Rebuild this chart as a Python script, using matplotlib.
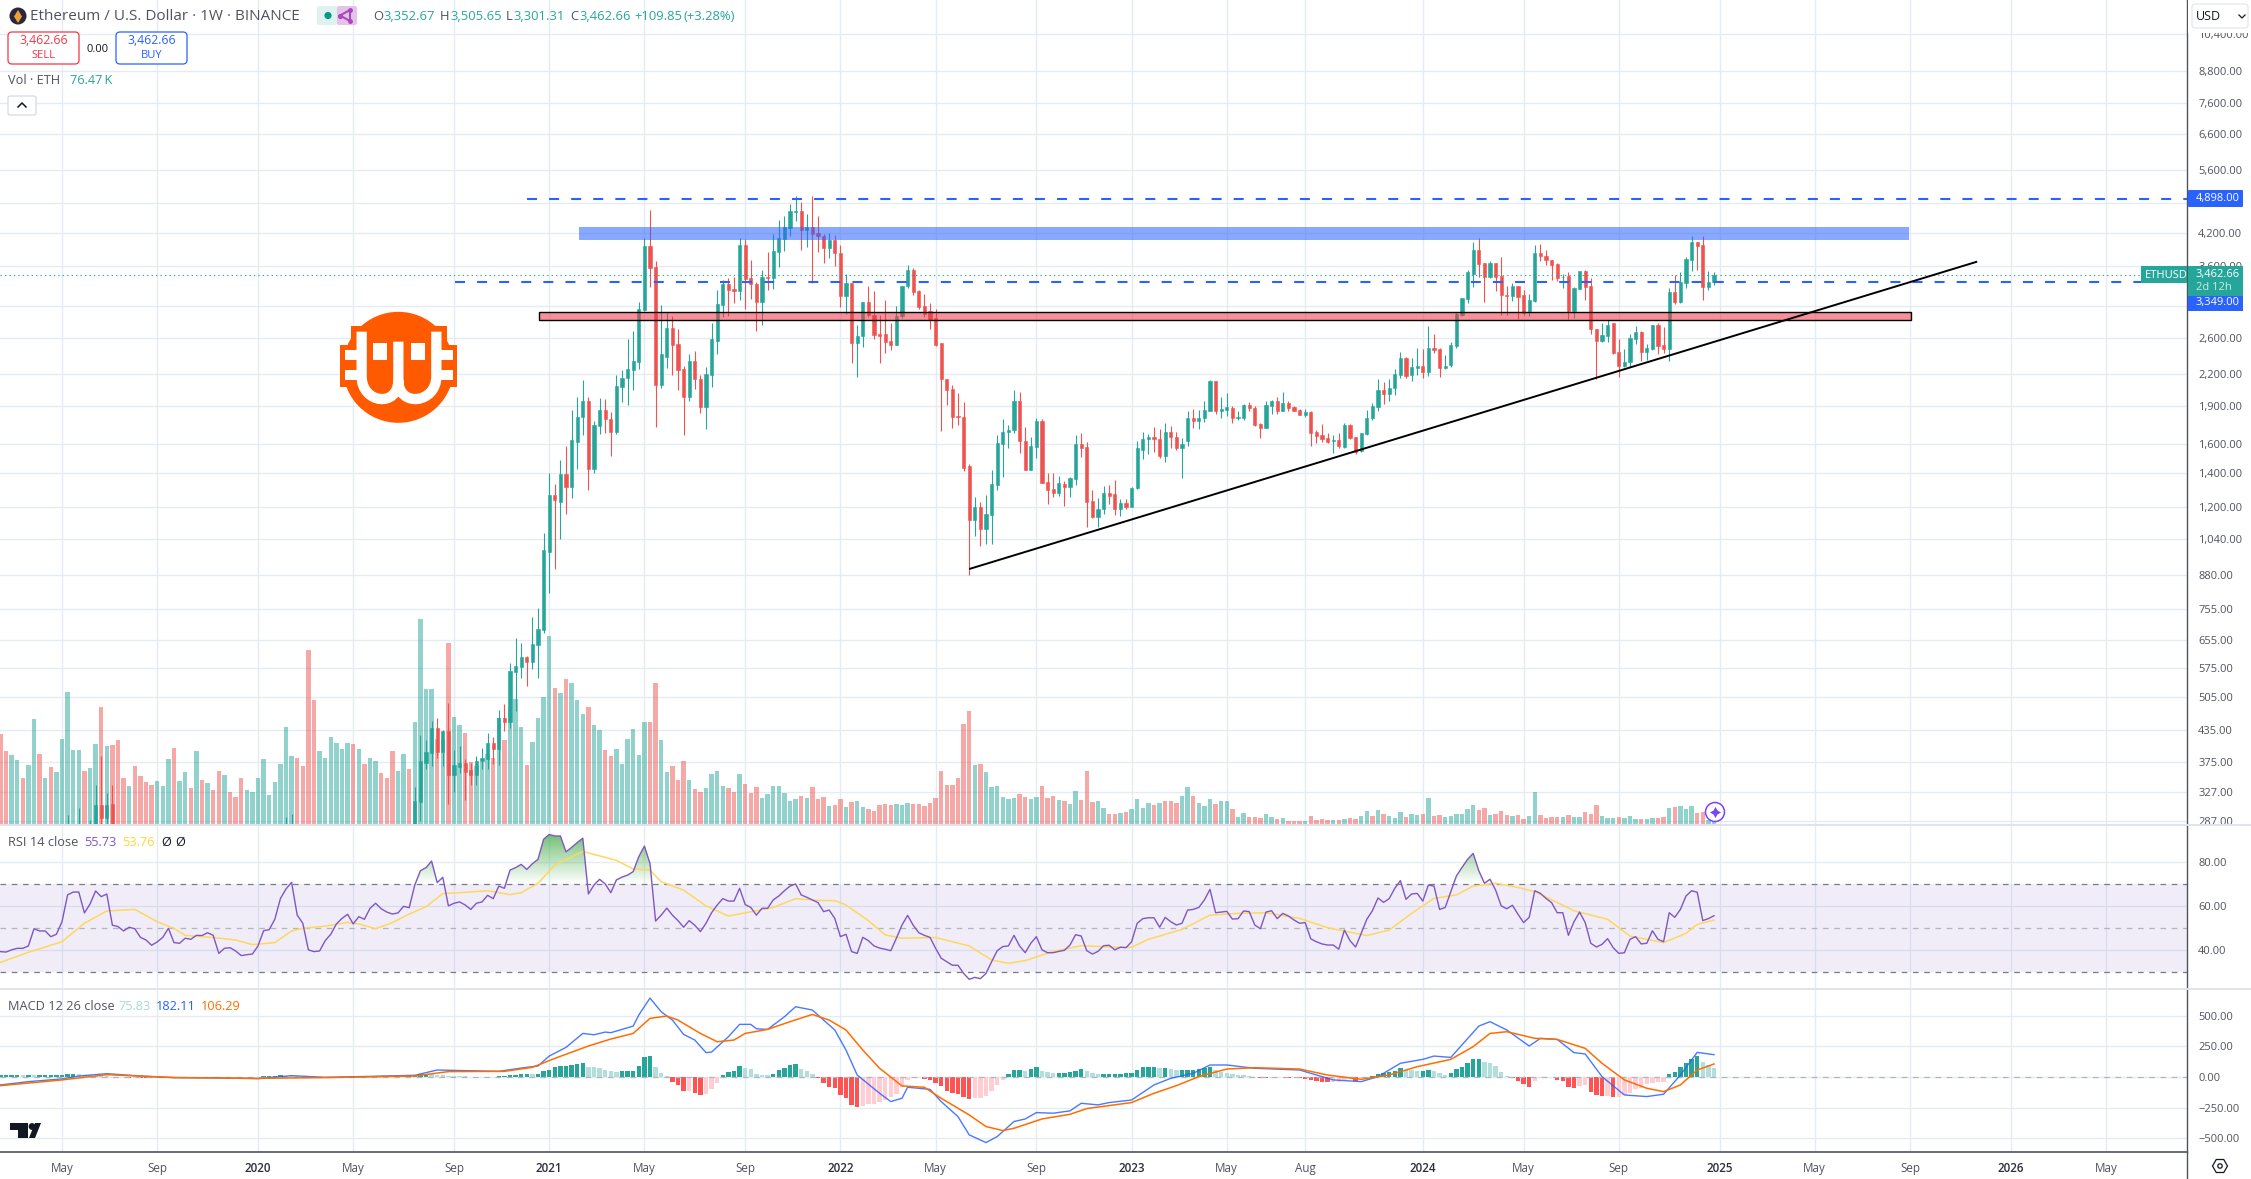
"""ETH/USD weekly TradingView chart: candles + volume, RSI and MACD panes."""
import matplotlib
matplotlib.use("Agg")
import matplotlib.pyplot as plt
from matplotlib.patches import Circle, FancyBboxPatch, Rectangle, PathPatch, Polygon
from matplotlib.path import Path
from matplotlib.ticker import FixedLocator, NullLocator
import numpy as np

plt.rcParams["font.family"] = ["Open Sans", "DejaVu Sans"]

W, H = 2251, 1179
AXIS_X = 2187
GRID = "#e4ecf2"
UP, DOWN = "#26a69a", "#ef5350"
TXT = "#50535e"
BLUE = "#2962ff"

# x axis, week numbers
tick_idx = [11, 28, 46, 63, 81, 98, 115, 133, 150, 167, 185, 202, 219, 233, 254, 272, 289, 307, 324, 341, 359, 376]
tick_txt = ["May", "Sep", "2020", "May", "Sep", "2021", "May", "Sep", "2022", "May", "Sep", "2023", "May", "Aug",
            "2024", "May", "Sep", "2025", "May", "Sep", "2026", "May"]
price_ticks = [10400, 8800, 7600, 6600, 5600, 4800, 4200, 3600, 3000, 2600, 2200, 1900, 1600, 1400, 1200, 1040,
               880, 755, 655, 575, 505, 435, 375, 327, 287]
# these two sit fully behind the price tags
hidden_ticks = [4800, 3000]

# volume, in units of 10K ETH, one value per week from week 0
vol_10k = [273, 222, 210, 195, 141, 180, 318, 213, 141, 174,
           159, 258, 399, 225, 225, 162, 171, 243, 354, 237,
           240, 255, 141, 117, 177, 147, 129, 120, 132, 117,
           198, 231, 132, 159, 111, 222, 135, 126, 105, 162,
           150, 99, 84, 141, 105, 99, 141, 198, 90, 129,
           183, 294, 207, 201, 177, 525, 375, 222, 201, 264,
           246, 228, 246, 243, 228, 183, 201, 192, 156, 141,
           222, 162, 213, 168, 309, 618, 408, 408, 258, 255,
           546, 324, 300, 276, 189, 177, 189, 213, 201, 321,
           255, 351, 378, 294, 180, 249, 321, 384, 567, 411,
           396, 438, 426, 375, 333, 354, 300, 285, 225, 207,
           228, 183, 258, 288, 210, 309, 309, 426, 255, 159,
           177, 135, 192, 135, 108, 99, 111, 153, 162, 117,
           111, 99, 153, 123, 96, 114, 81, 93, 117, 117,
           96, 72, 78,
           87, 81, 114, 78, 84, 57, 60, 78, 54, 69,
           72, 54, 48, 42, 60, 63, 60, 63, 60, 66,
           63, 63, 57, 66, 81, 162, 120, 120, 141, 303,
           342, 180, 183, 159, 114, 117, 84, 78, 81, 93,
           84, 78, 84, 117, 81, 87, 75, 72, 63, 102,
           75, 162, 69, 72, 51, 33, 33, 36, 39, 48,
           78, 51, 66, 60, 66, 72, 72, 66, 87, 114,
           87, 66, 57, 78, 63, 72, 72, 48, 24, 36,
           24, 24, 21, 33, 24, 18, 21, 12, 12, 12,
           12, 27, 15, 18, 15, 15, 15, 18, 21, 18,
           27, 42, 27, 45, 33, 27, 21, 39, 24, 33,
           30, 33, 81, 27, 30, 24, 27, 33, 33, 48,
           60, 45, 51, 30, 33, 42, 30, 27, 30, 18,
           27, 99, 30, 21, 24, 24, 24, 30, 24, 24,
           39, 33, 60, 27, 21, 21, 24, 21, 27, 18,
           18, 18, 21, 21, 24, 51, 54, 57, 48, 57,
           36, 39, 15, 7.6]
vol_dir = ("rrggrggrgr" "gggggrggrg" "rrrgrrrrgg" "grggrgrgrr" "grrrgggggg" "gggrrrrggg" "gggrgrggrr"
           "rggrggggrg" "rggrrgggrg" "rgggrggggr" "grgggrggrr" "ggggggrrgg" "rrrgrrgggg" "rrgrrrgggg" "ggg"
           "rgrrrgrrgr" "ggrrrrrggg" "rrrrrrrrrr" "rgrgggggGr".lower() + "rggrrrgrgg" "rrrggrrgrg"
           "gggrgrrrgg" "rgggrggrgg" "rrrggrgrrr" "grrrrgrgrr" "ggrgrgggrg" "grgrrggggg" "grrgrrrgrr"
           "ggrrrrgrgg" "rrrgggrggg" "rggrrgrggg" "rrgg")

# weekly candles that reach the visible price range before the main run
early_idx = [12, 14, 16, 17, 18, 19, 20, 51, 52]
early_open = [255, 255, 255, 262, 308, 290, 309, 255, 255]
early_high = [295, 304, 288, 337, 386, 326, 337, 292, 296]
early_low = [240, 240, 240, 250, 270, 270, 255, 240, 240]
early_close = [265, 265, 265, 308, 290, 308, 268, 265, 270]

# main candle run starts at week 74
first_week = 74
open_ = [265, 313, 374, 391, 438, 393, 433, 354, 367, 373,
         361, 354, 376, 381, 410, 398, 459, 451, 565, 580,
         606, 592, 640, 685, 980, 1267, 1231, 1399, 1317, 1618,
         1807, 1945, 1426, 1735, 1869, 1797, 1692, 2081, 2160, 2248,
         2332, 2955, 3954, 3595, 2098, 2385, 2722, 2529, 2258, 1986,
         2335, 2153, 1896, 2193, 2565, 3023, 3320, 3250, 3225, 3971,
         3420, 3325, 3060, 3425, 3410, 3850, 4075, 4295, 4615, 4635,
         4250, 4310, 4190, 4130, 3915, 4060, 3830, 3150, 3345, 2540,
         2615, 3055, 2885, 2640, 2640, 2565, 2520, 2865, 3290, 3544,
         3220, 3000, 2940, 2840, 2540, 2155, 2055, 1820, 1815, 1445,
         1130, 1200, 1085, 1160, 1330, 1600, 1690, 1710, 1945, 1625,
         1420, 1580, 1780, 1345, 1305, 1280, 1335, 1315, 1365, 1600,
         1580, 1232, 1150, 1190, 1280, 1273, 1190, 1225, 1200, 1310,
         1555, 1635, 1655, 1640, 1518, 1695, 1655, 1570, 1620, 1800,
         1780, 1800, 1865, 2135, 1865, 1870, 1890, 1805, 1805, 1915,
         1890, 1755, 1725, 1905, 1945, 1860, 1930, 1895, 1870, 1830,
         1850, 1695, 1665, 1645, 1625, 1630, 1580, 1750, 1650, 1550,
         1675, 1800, 1895, 2045, 2015, 2065, 2190, 2370, 2190, 2265,
         2290, 2225, 2480, 2470, 2260, 2300, 2505, 2885, 3100, 3476,
         3888, 3660, 3430, 3660, 3450, 3160, 3150, 3285, 3160, 2940,
         3070, 3830, 3775, 3700, 3640, 3425, 3440, 2940, 3250, 3520,
         3295, 2710, 2565, 2615, 2780, 2435, 2290, 2330, 2590, 2675,
         2440, 2470, 2750, 2520, 2465, 3200, 3065, 3345, 3710, 4025,
         3975, 3275, 3352.67]
close = [314, 376, 393, 438, 393, 433, 354, 370, 373, 359,
         354, 377, 382, 410, 398, 459, 451, 567, 582, 606,
         592, 643, 688, 986, 1267, 1242, 1399, 1317, 1627, 1813,
         1945, 1426, 1743, 1869, 1791, 1692, 2090, 2167, 2258, 2335,
         2966, 3954, 3577, 2098, 2410, 2722, 2519, 2248, 1986, 2335,
         2150, 1896, 2202, 2581, 3036, 3320, 3240, 3225, 3971, 3400,
         3320, 3060, 3425, 3410, 3860, 4095, 4310, 4635, 4635, 4260,
         4310, 4170, 4135, 3915, 4060, 3825, 3150, 3345, 2540, 2625,
         3055, 2880, 2630, 2625, 2555, 2520, 2875, 3300, 3544, 3200,
         2990, 2900, 2825, 2520, 2150, 2045, 1815, 1815, 1435, 1130,
         1200, 1085, 1165, 1335, 1605, 1695, 1710, 1945, 1620, 1420,
         1590, 1780, 1340, 1300, 1280, 1340, 1315, 1373, 1600, 1570,
         1228, 1150, 1190, 1280, 1260, 1190, 1225, 1200, 1310, 1575,
         1640, 1655, 1635, 1518, 1695, 1650, 1570, 1600, 1800, 1780,
         1805, 1870, 2135, 1865, 1880, 1895, 1805, 1815, 1915, 1890,
         1750, 1725, 1910, 1945, 1860, 1930, 1890, 1865, 1830, 1850,
         1685, 1660, 1640, 1615, 1630, 1585, 1750, 1645, 1545, 1680,
         1805, 1905, 2045, 2015, 2065, 2200, 2370, 2180, 2270, 2290,
         2225, 2480, 2460, 2260, 2290, 2515, 2900, 3120, 3505, 3888,
         3640, 3430, 3660, 3430, 3160, 3150, 3285, 3135, 2910, 3090,
         3830, 3780, 3705, 3620, 3420, 3430, 2940, 3270, 3520, 3275,
         2700, 2565, 2630, 2750, 2430, 2290, 2330, 2600, 2675, 2440,
         2480, 2750, 2505, 2465, 3200, 3065, 3350, 3720, 4025, 3955,
         3275, 3352, 3462.66]
high = [335, 424, 415, 453, 459, 435, 492, 397, 403, 381,
        373, 386, 400, 428, 421, 476, 489, 590, 660, 645,
        609, 727, 757, 1066, 1404, 1332, 1490, 1587, 1871, 1986,
        2148, 1986, 1782, 1976, 1966, 1852, 2193, 2248, 2581, 2685,
        3060, 4094, 4656, 3692, 3023, 2920, 2865, 2710, 2285, 2410,
        2450, 2193, 2276, 2780, 3240, 3380, 3420, 3430, 4090, 4075,
        3710, 3355, 3544, 3850, 4180, 4440, 4530, 4785, 4960, 4830,
        4565, 4960, 4530, 4180, 4200, 4150, 3970, 3470, 3345, 2750,
        3065, 3300, 3220, 2885, 3090, 2780, 3000, 3300, 3620, 3580,
        3240, 3180, 3040, 2960, 2540, 2155, 2100, 2025, 1935, 1460,
        1255, 1230, 1270, 1425, 1670, 1795, 1750, 2050, 2030, 1730,
        1650, 1805, 1795, 1400, 1405, 1385, 1355, 1380, 1670, 1680,
        1615, 1300, 1250, 1320, 1325, 1360, 1245, 1245, 1315, 1620,
        1695, 1675, 1730, 1715, 1765, 1735, 1695, 1645, 1860, 1875,
        1870, 1945, 2145, 2135, 1980, 2025, 1905, 1860, 1925, 1935,
        1905, 1760, 1945, 1960, 1985, 2030, 1945, 1905, 1880, 1880,
        1860, 1710, 1755, 1680, 1665, 1680, 1760, 1755, 1650, 1680,
        1870, 1930, 2150, 2125, 2150, 2250, 2435, 2380, 2370, 2480,
        2465, 2745, 2640, 2480, 2400, 2550, 2930, 3120, 3545, 4023,
        4100, 3660, 3695, 3660, 3750, 3300, 3345, 3300, 3240, 3180,
        3970, 3985, 3885, 3700, 3660, 3475, 3510, 3280, 3520, 3540,
        3420, 2710, 2785, 2825, 2780, 2580, 2470, 2650, 2745, 2685,
        2530, 2760, 2780, 2735, 3265, 3460, 3505, 3750, 4145, 4025,
        4145, 3525, 3505.65]
low = [250, 287, 364, 369, 382, 369, 310, 327, 357, 316,
       337, 337, 364, 364, 372, 370, 433, 438, 473, 551,
       530, 573, 551, 676, 810, 903, 1040, 1163, 1249, 1426,
       1670, 1300, 1400, 1675, 1680, 1514, 1675, 1935, 1910, 2044,
       2258, 2940, 3275, 1730, 2070, 2268, 2190, 2044, 1670, 1950,
       2056, 1846, 1714, 2081, 2419, 2860, 2870, 3050, 3090, 2970,
       3105, 2680, 2760, 3240, 3250, 3590, 3860, 4145, 4420, 3880,
       3930, 3340, 3850, 3660, 3740, 3600, 2990, 2900, 2320, 2170,
       2495, 2860, 2580, 2320, 2430, 2460, 2520, 2850, 3265, 3165,
       2960, 2860, 2710, 2500, 1700, 1910, 1720, 1750, 1415, 880,
       1050, 1005, 1015, 1015, 1300, 1375, 1570, 1680, 1540, 1420,
       1420, 1500, 1340, 1215, 1255, 1265, 1205, 1255, 1330, 1510,
       1095, 1140, 1095, 1165, 1220, 1160, 1155, 1190, 1200, 1305,
       1495, 1530, 1545, 1505, 1475, 1570, 1555, 1370, 1590, 1725,
       1715, 1770, 1865, 1840, 1805, 1820, 1765, 1785, 1785, 1860,
       1735, 1645, 1720, 1835, 1840, 1860, 1865, 1860, 1830, 1810,
       1590, 1610, 1615, 1610, 1535, 1575, 1570, 1635, 1530, 1545,
       1670, 1790, 1860, 1925, 1945, 2000, 2160, 2160, 2135, 2190,
       2160, 2180, 2430, 2175, 2250, 2270, 2480, 2870, 3040, 3280,
       3430, 3060, 3420, 3225, 2880, 2890, 3070, 2835, 2880, 2870,
       3060, 3690, 3625, 3385, 3365, 3265, 2835, 2845, 3250, 3090,
       2650, 2150, 2555, 2550, 2415, 2170, 2270, 2270, 2530, 2335,
       2345, 2460, 2410, 2430, 2340, 3030, 3040, 3260, 3525, 3545,
       3090, 3240, 3301.31]

# drawn levels and trendline
level_top = 4898.0
level_mid = 3349.0
last_price = 3462.66
blue_zone = (4308, 4066)
red_zone = (2920, 2818)
trend_weeks = (173, 353)
trend_prices = (905, 3680)

# RSI, one per week
rsi = [39.4, 39.2, 40.2, 40.9, 40.9, 42, 49.8, 48.8, 48.8, 46.2,
       47.3, 53, 65.2, 66.5, 66.5, 57, 61, 67, 64.4, 65.6,
       51.4, 50.8, 48.8, 50.5, 49.8, 45.9, 44.7, 42.3, 43.8, 45.9,
       50, 43.5, 43.2, 45.5, 45, 46.8, 46.7, 48, 46.8, 38.6,
       40.9, 41.2, 39.7, 37.6, 38, 38.3, 42, 48.9, 49.4, 54.1,
       63.5, 67.9, 70.9, 56, 52.3, 40.2, 39.4, 39.7, 44.4, 47.3,
       52, 54.5, 56.4, 52, 55.3, 54.1, 59.1, 61.4, 58.9, 57.4,
       56.5, 57, 60, 59.4, 69.7, 76.2, 77.6, 80.6, 70.8, 73.2,
       60.2, 61.4, 62, 60.6, 58.6, 61.4, 62, 65, 63.5, 69.2,
       68.2, 76.5, 77.6, 79.1, 76.8, 79.4, 81.4, 90.5, 92.7, 92,
       92, 84.8, 86.8, 89, 91, 65.6, 69.7, 72.3, 70.2, 66.2,
       72, 73.3, 74.2, 75.8, 82.6, 87.4, 79.5, 53.3, 56, 59.2,
       56, 53.5, 50.5, 53.5, 51.4, 48.5, 52.3, 57.1, 60.6, 63.5,
       62.4, 62.4, 68.2, 60.8, 59.5, 56, 59.1, 59.1, 62.9, 64.7,
       67.1, 69.2, 70.2, 65.2, 64.1, 62.9, 61.7, 57.6, 58.3, 54.5,
       46.2, 47.3, 39.4, 38.6, 45.9, 44.4, 42, 41, 40.5, 39.8,
       45.5, 51.5, 55.9, 51.4, 48, 46.8, 45.9, 40.9, 36.4, 34.8,
       33.2, 33.2, 29.5, 26.8, 27.7, 27.1, 29.5, 34.8, 39.8, 41.7,
       42, 46.8, 42, 38.9, 43.2, 46.2, 40.2, 38.9, 38.9, 39.5,
       40, 42.4, 47.1, 46.5, 39.8, 38.3, 39.5, 42.1, 42.3, 40.2,
       41.4, 41.2, 43.9, 52.3, 54.4, 54.8, 54.8, 50.5, 55, 53,
       51.5, 52.3, 58.3, 58.6, 59.5, 62.9, 67.7, 57.1, 57.4, 57.7,
       54.2, 54.4, 57.9, 57.6, 51.5, 49.8, 57.4, 58, 54.4, 56.8,
       55.6, 53.8, 52.3, 52.6, 45.2, 43.9, 42.9, 42.4, 42.4, 40.5,
       49.2, 44.4, 41.5, 47.7, 54.1, 58, 63.8, 61.8, 63.5, 68.2,
       71.7, 63.2, 65.6, 65.9, 62.4, 69.7, 69.2, 58.6, 59.5, 66.7,
       73.8, 77.7, 81.4, 84.1, 76.2, 70.5, 72.3, 67.4, 60.2, 58.9,
       60.5, 56.4, 52.6, 55, 67.1, 65.9, 63.6, 61.7, 57.1, 57.1,
       46.8, 53, 57.4, 52.6, 43.2, 41.5, 42.7, 45.3, 41.2, 38.6,
       38.9, 45, 46.2, 42.9, 43.2, 48.9, 45, 43.9, 57.1, 55,
       58.6, 64.7, 67.1, 66.4, 53.5, 54.4, 55.73]

# RSI moving average, read at the weeks listed
rsi_ma_idx = [0, 5, 11, 15, 19, 24, 28, 31, 33, 38, 42, 45, 49, 52, 54, 58, 62, 64, 67, 70, 73, 76, 79, 83, 87, 91,
              93, 96, 99, 104, 110, 113, 116, 118, 122, 126, 130, 135, 138, 142, 146, 149, 151, 155, 158, 161, 167,
              173, 177, 180, 183, 188, 193, 199, 202, 205, 211, 216, 221, 226, 232, 237, 244, 248, 252, 256, 260,
              263, 267, 271, 274, 281, 287, 291, 297, 301, 303, 306]
rsi_ma = [34.5, 39.1, 43.9, 52.3, 57.9, 58.6, 53, 50, 46.8, 45.8, 44.7, 42.6, 43.5, 48.8, 50, 51, 52.7, 52, 49.8, 52.6,
          56.5, 59.8, 65.8, 66.4, 67.1, 65.3, 66.2, 70.5, 78.8, 85, 80.9, 77, 76.5, 71.2, 67.4, 60.2, 55.6, 58, 59.5,
          63.5, 62.7, 62.6, 60.6, 53.5, 47, 45.5, 45.8, 42, 35.6, 34.1, 35.3, 39.5, 42.1, 41.4, 41.4, 45, 49.5, 56,
          56.8, 57.1, 54.5, 50.3, 46.7, 49.2, 56.8, 63.6, 65.2, 69.2, 70.5, 68.6, 66.7, 58, 54.1, 46.5, 43.5, 47.7,
          51.8, 53.76]

# MACD line and signal, read at the weeks listed
macd_idx = [0, 5, 11, 14, 19, 25, 31, 39, 46, 52, 58, 66, 74, 78, 83, 89, 93, 96, 98, 101, 104, 106, 108, 109, 113,
            114, 116, 118, 120, 122, 124, 126, 127, 130, 132, 134, 135, 137, 140, 142, 145, 147, 149, 151, 153, 157,
            159, 161, 162, 166, 168, 171, 173, 176, 178, 181, 183, 185, 188, 191, 193, 196, 198, 202, 206, 209, 213,
            216, 219, 224, 232, 238, 243, 246, 250, 254, 256, 259, 264, 266, 269, 273, 275, 278, 281, 283, 286, 290,
            294, 297, 300, 303, 306]
macd = [-65, -38, -16, 8, 27, 8, -5, -8, -14, 11, -3, 5, 14, 57, 52, 46, 73, 90, 171, 242, 356, 345, 367, 362, 416,
        506, 645, 533, 465, 348, 302, 199, 204, 329, 430, 430, 394, 389, 492, 574, 547, 465, 384, 220, 16, -133,
        -201, -174, -84, -101, -201, -324, -473, -536, -487, -364, -343, -291, -296, -277, -215, -228, -209, -188,
        -65, -11, 30, 98, 98, 71, 57, -24, -38, 3, 112, 144, 171, 160, 416, 452, 384, 253, 316, 307, 199, 188, 3,
        -147, -160, -141, 16, 201, 182.11]
signal_idx = [0, 11, 19, 31, 46, 58, 74, 80, 90, 95, 99, 105, 109, 113, 116, 119, 121, 125, 128, 131, 133, 137, 141,
              145, 148, 151, 154, 157, 161, 165, 168, 173, 176, 179, 181, 186, 191, 194, 202, 206, 210, 214, 219,
              224, 232, 237, 243, 248, 253, 259, 263, 266, 269, 274, 278, 283, 286, 290, 294, 297, 300, 303, 306]
signal = [-71, -24, 19, -5, -11, -5, 8, 44, 46, 79, 152, 253, 310, 356, 479, 498, 465, 356, 288, 302, 356, 389, 452,
          511, 465, 384, 220, 71, -73, -84, -174, -310, -405, -438, -419, -343, -305, -258, -209, -133, -71, 3, 65,
          76, 65, 16, -19, 16, 84, 144, 248, 356, 370, 316, 307, 234, 112, -24, -92, -120, -65, 57, 106.29]

# MACD histogram, one per week
hist = [20, 20, 20, 20, 18, 18, 16, 16, 16, 16,
        18, 20, 24, 28, 22, 18, 14, 10, 6, 4,
        2, -2, -3, -5, -5, -8, -10, -10, -8, -6,
        -5, -4, -3, -2, -2, -2, -3, -4, -5, -5,
        -3, -2, -1, -1, -1, -1, 3, 5, 8, 12,
        14, 12, 8, 4, -6, -8, -8, -6, -5, -3,
        -2, 2, 3, 4, 5, 5, 6, 6, 7, 8,
        8, 8, 10, 14, 20, 25, 26, 22, 16, 14,
        10, 8, 6, 4, 2, 2, -3, -3, 2, 4,
        10, 14, 20, 24, 24, 22, 24, 45, 60, 78,
        90, 90, 95, 105, 114, 85, 80, 70, 60, 50,
        40, 48, 50, 52, 92, 165, 175, 80, 35, 8,
        -38, -65, -112, -112, -128, -144, -139, -100, -52, 16,
        38, 52, 90, 76, 62, 22, 19, 16, 24, 57,
        71, 98, 109, 62, 52, 24, -8, -52, -79, -87,
        -144, -174, -228, -247, -237, -220, -218, -201, -188, -160,
        -139, -79, -24, -5, -2, -14, -22, -46, -76, -114,
        -130, -139, -160, -177, -174, -168, -155, -115, -68, -22,
        22, 60, 60, 50, 65, 80, 48, 40, 35, 35,
        35, 38, 52, 65, 48, 30, 25, 25, 25, 25,
        25, 30, 35, 60, 78, 82, 82, 76, 76, 68,
        60, 60, 60, 60, 62, 75, 78, 55, 40, 30,
        22, 18, 16, 8, -3, -5, -8, -6, -3, -3,
        -8, -5, -12, -16, -22, -30, -38, -44, -44, -44,
        -25, -20, -35, -10, 2, 12, 22, 35, 38, 50,
        70, 60, 55, 50, 50, 55, 52, 32, 18, 30,
        62, 80, 112, 150, 150, 125, 115, 90, 40, 12,
        -10, -30, -60, -78, -30, -8, 3, 3, -24, -35,
        -80, -87, -75, -65, -125, -150, -155, -155, -163, -163,
        -150, -130, -100, -90, -60, -50, -40, -38, 25, 38,
        80, 115, 150, 175, 125, 100, 75.83]


def px_rect(top, bottom):
    return [0, 1 - bottom / H, AXIS_X / W, (bottom - top) / H]


def week(px):
    return (px - 0.4) / 5.6


def style_pane(ax, yticks, ylabels):
    ax.set_xlim(week(0), week(AXIS_X))
    ax.xaxis.set_major_locator(FixedLocator(tick_idx))
    ax.yaxis.tick_right()
    ax.yaxis.set_major_locator(FixedLocator(yticks))
    ax.yaxis.set_minor_locator(NullLocator())
    ax.set_yticklabels(ylabels)
    ax.grid(True, color=GRID, lw=1.0)
    ax.set_axisbelow(True)
    ax.tick_params(axis="y", length=0, pad=8, labelsize=8.0, labelcolor=TXT)
    ax.tick_params(axis="x", length=0, labelbottom=False)
    for s in ("left", "top", "bottom"):
        ax.spines[s].set_visible(False)
    ax.spines["right"].set_color(TXT)
    ax.spines["right"].set_linewidth(1.0)


fig = plt.figure(figsize=(W / 100, H / 100), dpi=100)

# ---------- price pane: grid axes, volume axes, candle axes stacked ----------
ax = fig.add_axes(px_rect(0, 825))
ax.set_yscale("log")
ax.set_ylim(281.4, 12143)
style_pane(ax, price_ticks, ["" if p in hidden_ticks else f"{p:,.2f}" for p in price_ticks])

ax_vol = fig.add_axes(px_rect(0, 825), sharex=ax, zorder=2)
ax_vol.patch.set_visible(False)
ax_vol.axis("off")
weeks_all = np.arange(len(vol_10k))
vol_cols = [UP if d == "g" else DOWN for d in vol_dir]
ax_vol.bar(weeks_all, vol_10k, width=0.77, color=vol_cols, alpha=0.5, lw=0)
ax_vol.set_ylim(0, 825 * 3)

ax_c = fig.add_axes(px_rect(0, 825), sharex=ax, zorder=3)
ax_c.patch.set_visible(False)
ax_c.axis("off")
ax_c.set_yscale("log")
ax_c.set_ylim(281.4, 12143)


def draw_candles(weeks, o, h, l, c):
    o, h, l, c = map(np.asarray, (o, h, l, c))
    cols = np.where(c >= o, UP, DOWN)
    ax_c.vlines(weeks, l, h, colors=cols, lw=0.8)
    bot = np.minimum(o, c)
    ax_c.bar(weeks, np.abs(c - o), bottom=bot, width=0.57, color=cols, edgecolor=cols, lw=0.4)


draw_candles(np.array(early_idx), early_open, early_high, early_low, early_close)
draw_candles(np.arange(first_week, first_week + len(close)), open_, high, low, close)

ax_c.add_patch(Rectangle((week(579), blue_zone[1]), week(1909) - week(579), blue_zone[0] - blue_zone[1],
                         facecolor=BLUE, alpha=0.55, lw=0, zorder=4))
ax_c.add_patch(Rectangle((week(539), red_zone[1]), week(1911) - week(539), red_zone[0] - red_zone[1],
                         facecolor="#f23645", alpha=0.55, lw=0, zorder=4))
ax_c.add_patch(Rectangle((week(539), red_zone[1]), week(1911) - week(539), red_zone[0] - red_zone[1],
                         fill=False, edgecolor="black", lw=1.0, zorder=5))
ax_c.plot(trend_weeks, trend_prices, color="black", lw=1.4, zorder=6, solid_capstyle="butt")
ax_c.plot([week(527), week(AXIS_X)], [level_top] * 2, color=BLUE, lw=1.5, ls=(0, (4.8, 5.8)), zorder=5)
ax_c.plot([week(455), week(2141)], [level_mid] * 2, color=BLUE, lw=1.5, ls=(0, (4.8, 5.8)), zorder=5)
ax_c.plot([week(0), week(2141)], [last_price] * 2, color=UP, lw=0.8, ls=(0, (1.2, 2.8)), zorder=3)

# ---------- RSI pane ----------
ax_r = fig.add_axes(px_rect(825, 989), sharex=ax)
ax_r.set_ylim(22.4, 97)
style_pane(ax_r, [80, 60, 40], ["80.00", "60.00", "40.00"])
ax_r.axhspan(30, 70, color="#7e57c2", alpha=0.1, lw=0, zorder=1)
for lvl, col in ((70, "#787b86"), (30, "#787b86"), (50, "#b2b5be")):
    ax_r.axhline(lvl, color=col, lw=0.9, ls=(0, (4.5, 4.5)), zorder=2)
rsi_arr = np.array(rsi)
weeks_rsi = np.arange(len(rsi))
ob = ax_r.fill_between(weeks_rsi, 70, rsi_arr, where=rsi_arr > 70, interpolate=True, color="none", lw=0)
grad = np.zeros((64, 2, 4))
grad[..., :3] = matplotlib.colors.to_rgb("#4caf50")
grad[..., 3] = np.linspace(0, 0.8, 64)[:, None]
im = ax_r.imshow(grad, extent=[week(0), week(AXIS_X), 70, 93], origin="lower", aspect="auto", zorder=2)
im.set_clip_path(Path.make_compound_path(*ob.get_paths()), transform=ax_r.transData)
ax_r.set_xlim(week(0), week(AXIS_X))
ax_r.set_ylim(22.4, 97)
ax_r.plot(weeks_rsi, rsi, color="#7e57c2", lw=1.0, zorder=4)
ax_r.plot(rsi_ma_idx, rsi_ma, color="#fdd85d", lw=1.1, zorder=3)

# ---------- MACD pane ----------
ax_m = fig.add_axes(px_rect(989, 1152), sharex=ax)
ax_m.set_ylim(-613, 719)
style_pane(ax_m, [500, 250, 0, -250, -500], ["500.00", "250.00", "0.00", "\u2212250.00", "\u2212500.00"])
hist_arr = np.array(hist)
prev = np.r_[hist_arr[0], hist_arr[:-1]]
hist_cols = np.where(hist_arr >= 0, np.where(hist_arr >= prev, "#26a69a", "#b2dfdb"),
                     np.where(hist_arr < prev, "#ff5252", "#ffcdd2"))
ax_m.bar(np.arange(len(hist)), hist, width=0.77, color=hist_cols, lw=0, zorder=2)
ax_m.axhline(0, color="#b2b5be", lw=0.9, ls=(0, (4.5, 4.5)), zorder=2)
ax_m.plot(macd_idx, macd, color=BLUE, lw=1.0, zorder=3, alpha=0.85)
ax_m.plot(signal_idx, signal, color="#ff6d00", lw=1.1, zorder=4)
ax_m.tick_params(axis="x", labelbottom=True, labelsize=8.4, labelcolor=TXT, pad=7)
ax_m.set_xticklabels(tick_txt)
for lab, t in zip(ax_m.get_xticklabels(), tick_txt):
    if t.isdigit():
        lab.set_fontweight("semibold")
        lab.set_color("#2a2e39")

# ---------- chrome, in pixel coordinates ----------
ui = fig.add_axes([0, 0, 1, 1], zorder=10)
ui.set_xlim(0, W)
ui.set_ylim(H, 0)
ui.axis("off")
ui.patch.set_visible(False)


def put(x, y, s, color=TXT, size=8.6, ha="left", weight="normal"):
    ui.text(x, y, s, color=color, fontsize=size, ha=ha, va="center", fontweight=weight)


def box(x0, y0, x1, y1, fc, ec=None, lw=0.0, r=2):
    ui.add_patch(FancyBboxPatch((x0 + r, y0 + r), x1 - x0 - 2 * r, y1 - y0 - 2 * r,
                                boxstyle=f"round,pad={r},rounding_size={r}", fc=fc, ec=ec or fc, lw=lw, zorder=5))


# pane separators and axis lines
ui.plot([0, W], [825, 825], color="#e0e3eb", lw=1.4)
ui.plot([0, W], [989, 989], color="#e0e3eb", lw=1.4)
ui.plot([0, AXIS_X], [1152, 1152], color=TXT, lw=1.2)
ui.plot([AXIS_X, AXIS_X], [1152, H], color=TXT, lw=1.0)

# header
ui.add_patch(Circle((18, 16), 8.5, fc="#2a2540", ec="none", zorder=6))
ui.add_patch(Polygon([(18, 10), (22, 16.5), (18, 23), (14, 16.5)], fc="#f0a030", ec="none", zorder=7))
put(30, 16, "Ethereum / U.S. Dollar \u00b7 1W \u00b7 BINANCE", size=11.0)
box(317, 6, 337, 25, "#dff2ef", r=2)
box(337, 6, 357, 25, "#e3c4e8", r=2)
ui.add_patch(Circle((328, 15.5), 3.6, fc="#089981", ec="none", zorder=6))
ui.plot([340, 350, 350, 340], [15.5, 10, 21, 15.5], color="#ab47bc", lw=1.5, zorder=6, marker="o", ms=2.5)
for x, letter, xv, val in ((373, "O", 383, "3,352.67"), (440, "H", 450, "3,505.65"),
                           (506, "L", 513, "3,301.31"), (570, "C", 579, "3,462.66")):
    put(x, 16, letter, size=9.4)
    put(xv, 16, val, color=UP, size=9.4)
put(634, 16, "+109.85", color=UP, size=9.4)
put(684, 16, "(+3.28%)", color=UP, size=9.4)

# sell / buy
box(8, 32, 79, 64, "white", "#f23645", 0.9, r=4)
put(43.5, 41, "3,462.66", color="#f23645", size=8.8, ha="center")
put(43.5, 56, "SELL", color="#f23645", size=8, ha="center")
put(98, 49, "0.00", color="#131722", size=8, ha="center")
box(116, 32, 187, 64, "white", BLUE, 0.9, r=4)
put(151.5, 41, "3,462.66", color=BLUE, size=8.8, ha="center")
put(151.5, 56, "BUY", color=BLUE, size=8, ha="center")
put(8, 81, "Vol \u00b7 ETH", size=9.2)
put(70, 81, "76.47\u2009K", color=UP, size=9.2)
box(8, 96, 36, 115, "white", "#d1d4dc", 0.8, r=2)
ui.plot([18, 22, 26], [107, 103, 107], color="#131722", lw=1.1, zorder=6)

# pane legends
put(8, 842, "RSI 14 close", size=9.2)
put(84, 842, "55.73", color="#7e57c2", size=9.2)
put(122, 842, "53.76", color="#fdd835", size=9.2)
put(161, 842, "\u00d8", color="#131722", size=9.2)
put(175, 842, "\u00d8", color="#131722", size=9.2)
put(8, 1007, "MACD 12 26 close", size=9.2)
put(118, 1007, "75.83", color="#a7dbd5", size=9.2)
put(156, 1007, "182.11", color=BLUE, size=9.2)
put(201, 1007, "106.29", color="#ff6d00", size=9.2)

# USD box and price tags
ui.add_patch(Rectangle((2188, 0), 63, 33, fc="white", ec="none", zorder=4))
box(2192, 4, 2248, 28, "white", "#e0e3eb", 0.8, r=3)
put(2196, 16, "USD", color="#131722", size=9)
ui.plot([2239, 2242, 2245], [15, 18, 15], color="#131722", lw=0.9, zorder=6)
box(2188, 190, 2243, 207, BLUE, r=1)
put(2196, 198.5, "4,898.00", color="white", size=8.0)
ui.add_patch(Rectangle((2188, 266), 55, 31, fc=UP, ec="none", zorder=5))
ui.add_patch(Rectangle((2188, 296), 55, 15, fc=BLUE, ec="none", zorder=5))
ui.add_patch(Rectangle((2141, 266), 46, 17, fc=UP, ec="none", zorder=5))
put(2145, 275, "ETHUSD", color="white", size=8.0)
put(2196, 274, "3,462.66", color="white", size=8.0)
put(2196, 287, "2d 12h", color="#c8ebe6", size=8.0)
put(2196, 302.5, "3,349.00", color="white", size=8.0)
for t in ui.texts:
    t.set_zorder(7)

# round logo
L = lambda x, y: (300 + x / 3, 280 + y / 3)
ORANGE = "#ff5a00"
ui.add_patch(Circle(L(295, 262), 55.5, fc=ORANGE, ec="none", zorder=3))
ui.add_patch(Rectangle(L(120, 195), 352 / 3, 125 / 3, fc=ORANGE, ec="none", zorder=3))
ui.add_patch(Rectangle(L(152, 138), 290 / 3, 60 / 3, fc=ORANGE, ec="none", zorder=3))
for x0, x1, y0, y1 in ((135, 185, 210, 240), (135, 185, 270, 300), (410, 458, 210, 240), (410, 458, 270, 300),
                       (218, 262, 188, 240), (332, 375, 188, 240)):
    ui.add_patch(Rectangle(L(x0, y0), (x1 - x0) / 3, (y1 - y0) / 3, fc="white", ec="none", zorder=4))
w_path = Path([L(185, 155), L(185, 290), L(185, 370), L(295, 385), L(295, 300), L(295, 385), L(409, 370), L(409, 290),
               L(409, 155), L(295, 185), L(295, 320)],
              [Path.MOVETO, Path.LINETO, Path.CURVE4, Path.CURVE4, Path.CURVE4, Path.CURVE4, Path.CURVE4, Path.CURVE4,
               Path.LINETO, Path.MOVETO, Path.LINETO])
ui.add_patch(PathPatch(w_path, fc="none", ec="white", lw=7.4, capstyle="butt", zorder=4))

# volume pane marker at the last bar
ui.add_patch(Circle((1715, 812), 9.5, fc="white", ec="#7b42ff", lw=1.1, zorder=4))
ui.plot([1715], [812], marker=(4, 1, 0), ms=8, color="#7b42ff", zorder=5, mew=0)

# tradingview mark
ui.add_patch(Polygon([(10, 1123), (28, 1123), (28, 1138), (18, 1138), (18, 1130), (10, 1130)], fc="#131722", ec="none"))
ui.add_patch(Circle((32, 1126.5), 3.4, fc="#131722", ec="none"))
ui.add_patch(Polygon([(35, 1123), (41, 1123), (35, 1138), (29, 1138)], fc="#131722", ec="none"))

# settings icon
hex_t = np.deg2rad(np.arange(0, 360, 60))
ui.add_patch(Polygon(np.c_[2220 + 7.5 * np.cos(hex_t), 1166 + 7.5 * np.sin(hex_t)], fc="none", ec="#131722", lw=0.9))
ui.add_patch(Circle((2220, 1166), 2.2, fc="none", ec="#131722", lw=0.9))

fig.savefig("out.png", dpi=100)
